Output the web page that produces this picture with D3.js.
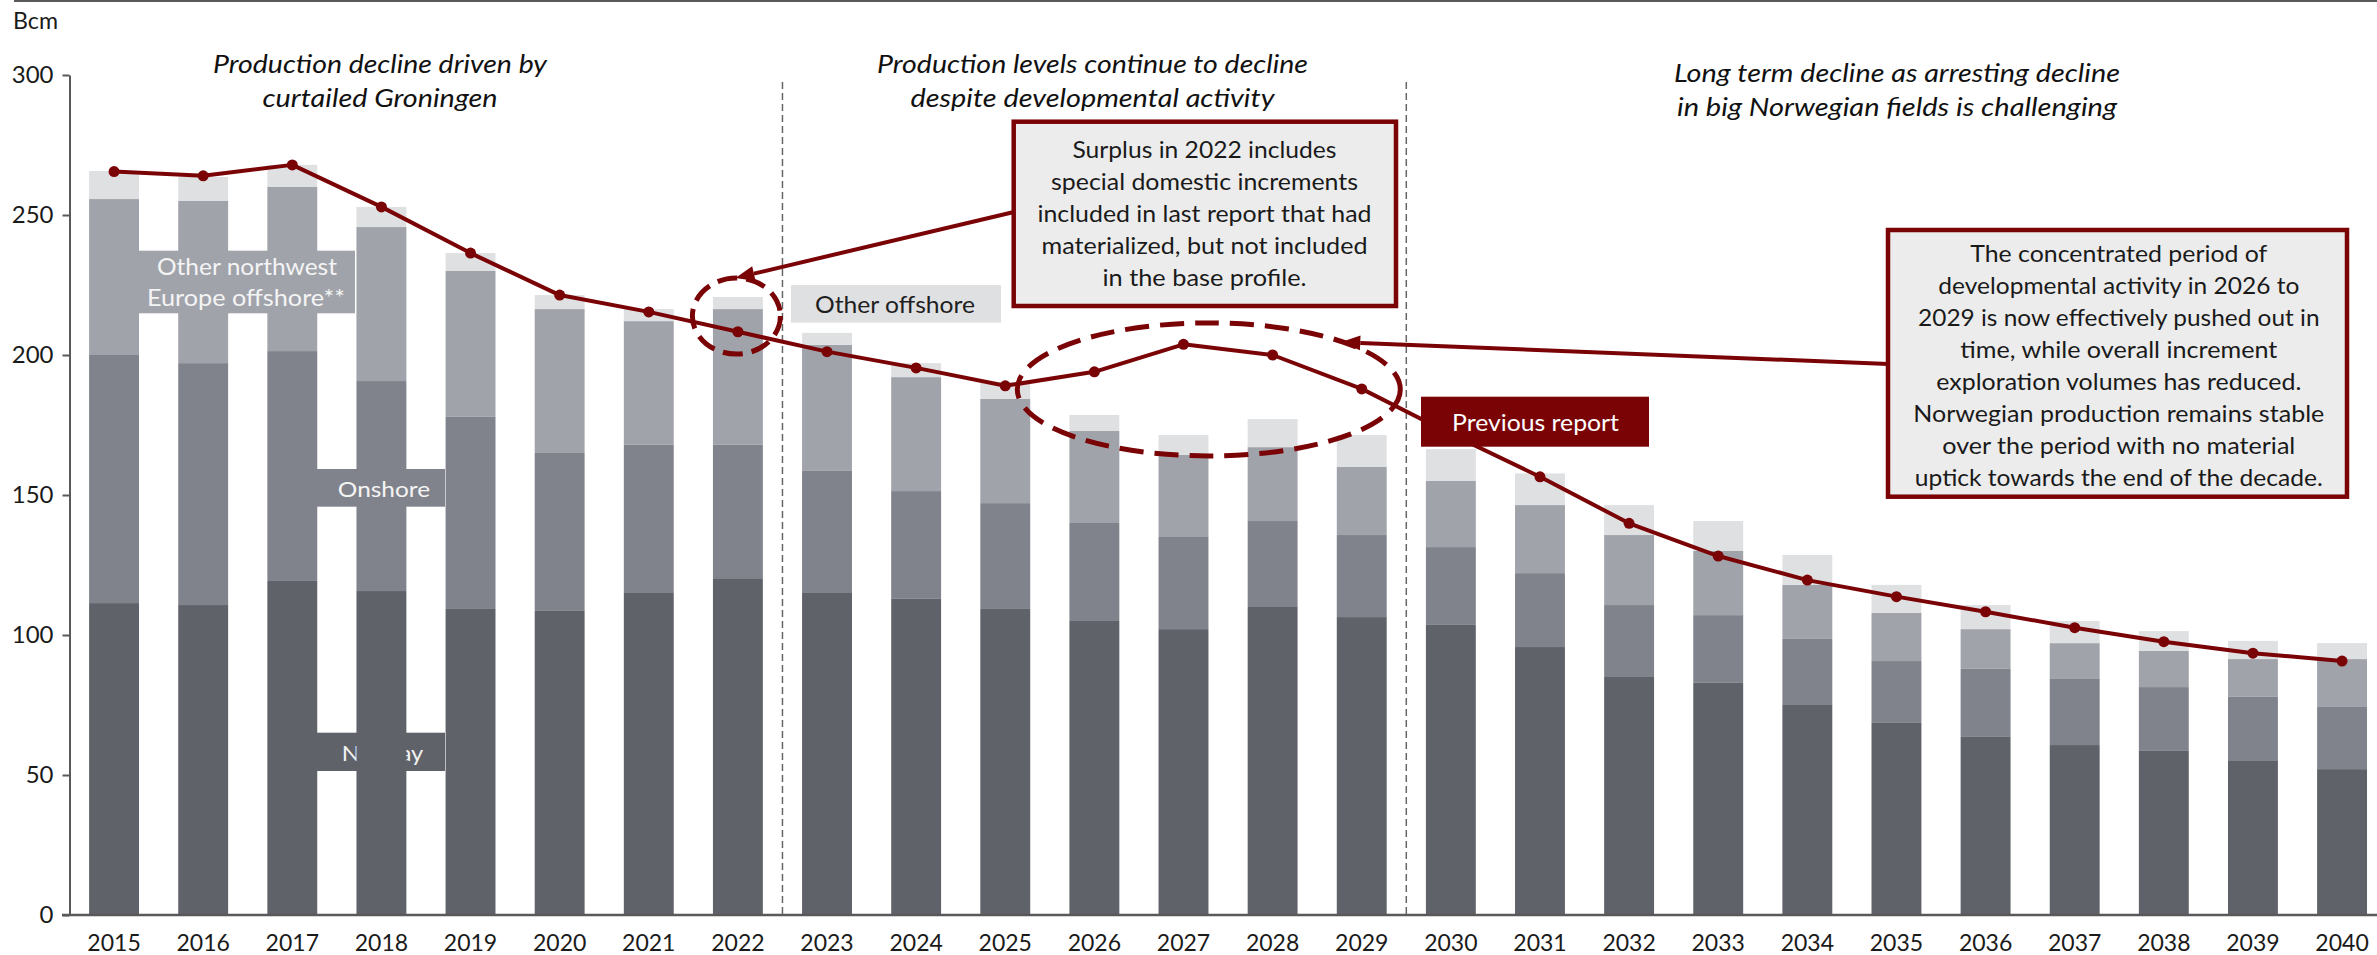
<!DOCTYPE html>
<html>
<head>
<meta charset="utf-8">
<script src="https://cdn.jsdelivr.net/npm/d3@7"></script>
<style>
  html, body { margin: 0; padding: 0; background: #ffffff; }
  svg { display: block; font-family: Lato, "Open Sans", sans-serif; }
</style>
</head>
<body>
<svg id="chart" width="2377" height="955"></svg>
<script>
// ---------------- DATA ----------------
const years = [2015, 2016, 2017, 2018, 2019, 2020, 2021, 2022, 2023, 2024, 2025, 2026, 2027,
               2028, 2029, 2030, 2031, 2032, 2033, 2034, 2035, 2036, 2037, 2038, 2039, 2040];
const norway        = [111.4, 110.7, 119.3, 115.7, 109.3, 108.6, 115.0, 120.0, 115.0, 112.9, 109.3, 105.0, 102.1,
                       110.0, 106.4, 103.6, 95.7, 85.0, 82.9, 75.0, 68.6, 63.6, 60.7, 58.6, 55.0, 52.1];
const onshore       = [88.6, 86.4, 82.1, 75.0, 68.6, 56.4, 52.9, 47.9, 43.6, 38.5, 37.8, 35.0, 32.9,
                       30.7, 29.3, 27.8, 26.4, 25.7, 24.2, 23.6, 22.1, 24.3, 23.6, 22.8, 22.9, 22.2];
const otherNW       = [55.7, 57.9, 58.6, 55.0, 52.1, 51.4, 44.2, 48.5, 45.0, 40.7, 37.2, 32.9, 29.3,
                       26.4, 24.3, 23.6, 24.3, 25.0, 22.9, 19.3, 17.2, 14.2, 12.8, 12.9, 13.5, 17.1];
const otherOffshore = [10.0, 8.6, 7.9, 7.2, 6.4, 5.0, 4.3, 4.3, 4.3, 5.0, 6.1, 5.7, 7.1,
                       10.0, 11.4, 11.4, 11.3, 10.7, 10.7, 10.7, 10.0, 8.6, 7.9, 7.1, 6.5, 5.7];
const previousReport = [265.5, 264.0, 267.9, 252.9, 236.4, 221.4, 215.4, 208.3, 201.2, 195.4, 189.0, 194.0, 203.8,
                        200.0, 187.9, 171.8, 156.5, 139.9, 128.2, 119.6, 113.7, 108.3, 102.6, 97.6, 93.5, 90.7];
const yTicks = [0, 50, 100, 150, 200, 250, 300];
const seriesKeys = ["norway", "onshore", "otherNW", "otherOffshore"];
const seriesColors = ["#606269", "#80838b", "#a0a3aa", "#dfe0e2"];

const periodTitles = [
  ["Production decline driven by", "curtailed Groningen"],
  ["Production levels continue to decline", "despite developmental activity"],
  ["Long term decline as arresting decline", "in big Norwegian fields is challenging"]
];
const note1 = ["Surplus in 2022 includes", "special domestic increments", "included in last report that had",
               "materialized, but not included", "in the base profile."];
const note2 = ["The concentrated period of", "developmental activity in 2026 to", "2029 is now effectively pushed out in",
               "time, while overall increment", "exploration volumes has reduced.", "Norwegian production remains stable",
               "over the period with no material", "uptick towards the end of the decade."];

// ---------------- SETUP ----------------
const RED = "#7a0306";
const AXIS = "#595959";
const svg = d3.select("#chart");

const x = d3.scaleBand().domain(years).range([69.5, 69.5 + 26 * 89.12]).paddingInner(0.44).paddingOuter(0.22);
const y = d3.scaleLinear().domain([0, 300]).range([915, 75]);
const cx = yr => x(yr) + x.bandwidth() / 2;
const gapAfter = yr => x(yr) + x.bandwidth() + (x.step() - x.bandwidth()) / 2;

const rows = years.map((yr, i) => ({ year: yr, norway: norway[i], onshore: onshore[i], otherNW: otherNW[i], otherOffshore: otherOffshore[i] }));
const stacked = d3.stack().keys(seriesKeys)(rows);

function fitText(sel, w) { sel.attr("textLength", w).attr("lengthAdjust", "spacingAndGlyphs"); return sel; }

// top border
svg.append("line").attr("x1", 14).attr("x2", 2377).attr("y1", 1).attr("y2", 1)
  .attr("stroke", AXIS).attr("stroke-width", 2);

// Bcm
fitText(svg.append("text").attr("x", 13).attr("y", 29).attr("font-size", 23).attr("fill", "#1a1a1a").text("Bcm"), 45);

// period dashed separators
[2022, 2029].forEach(yr => {
  svg.append("line").attr("x1", gapAfter(yr)).attr("x2", gapAfter(yr)).attr("y1", 82).attr("y2", y(0))
    .attr("stroke", "#666").attr("stroke-width", 1.5).attr("stroke-dasharray", "7,4");
});

// period titles
const titleCfg = [
  { cx: 380, y0: 72.7, w: [334, 235] },
  { cx: 1092.5, y0: 72.7, w: [431, 364] },
  { cx: 1897, y0: 81.7, w: [446, 440] }
];
periodTitles.forEach((lines, k) => {
  lines.forEach((t, j) => {
    fitText(svg.append("text").attr("x", titleCfg[k].cx).attr("y", titleCfg[k].y0 + j * 34)
      .attr("text-anchor", "middle").attr("font-size", 25.5).attr("font-style", "italic").attr("fill", "#111")
      .text(t), titleCfg[k].w[j]);
  });
});

// label boxes beneath bars (filling the gaps between bars)
svg.append("rect").attr("x", 139).attr("y", 250.7).attr("width", 216).attr("height", 62.6).attr("fill", seriesColors[2]);
svg.append("rect").attr("x", 316.5).attr("y", 469).attr("width", 128.5).attr("height", 37.7).attr("fill", seriesColors[1]);
svg.append("rect").attr("x", 316.5).attr("y", 732.7).attr("width", 128.5).attr("height", 38.3).attr("fill", seriesColors[0]);
// Norway label text sits under the 2018 bar
fitText(svg.append("text").attr("x", 382.5).attr("y", 760.7).attr("text-anchor", "middle").attr("font-size", 22)
  .attr("fill", "#f4f4f4").text("Norway"), 81.6);

// bars
const gBars = svg.append("g");
stacked.forEach((s, k) => {
  gBars.append("g").attr("fill", seriesColors[k]).selectAll("rect").data(s).join("rect")
    .attr("x", d => x(d.data.year)).attr("width", x.bandwidth())
    .attr("y", d => y(d[1])).attr("height", d => y(d[0]) - y(d[1]));
});

// labels on top of bars
fitText(svg.append("text").attr("x", 247).attr("y", 275).attr("text-anchor", "middle").attr("font-size", 23)
  .attr("fill", "#f4f4f4").text("Other northwest"), 180);
fitText(svg.append("text").attr("x", 246).attr("y", 306).attr("text-anchor", "middle").attr("font-size", 23)
  .attr("fill", "#f4f4f4").text("Europe offshore**"), 198);
fitText(svg.append("text").attr("x", 384).attr("y", 497.3).attr("text-anchor", "middle").attr("font-size", 22)
  .attr("fill", "#f4f4f4").text("Onshore"), 92.3);

svg.append("rect").attr("x", 791).attr("y", 285).attr("width", 210).attr("height", 37.7).attr("fill", seriesColors[3]);
fitText(svg.append("text").attr("x", 895).attr("y", 313.3).attr("text-anchor", "middle").attr("font-size", 23)
  .attr("fill", "#1f1f1f").text("Other offshore"), 160);

// axes
const yAxis = svg.append("g").attr("transform", "translate(69.5,0)")
  .call(d3.axisLeft(y).tickValues(yTicks).tickSize(7).tickSizeOuter(0).tickPadding(9));
yAxis.select(".domain").attr("stroke", AXIS).attr("stroke-width", 2);
yAxis.selectAll(".tick line").attr("stroke", AXIS).attr("stroke-width", 2);
yAxis.selectAll(".tick text").attr("font-size", 24).attr("font-family", "Lato, sans-serif").attr("fill", "#1a1a1a");

const xAxis = svg.append("g").attr("transform", `translate(0,${y(0)})`)
  .call(d3.axisBottom(x).tickSize(0).tickSizeOuter(0));
xAxis.select(".domain").remove();
xAxis.selectAll(".tick text").attr("font-size", 23).attr("font-family", "Lato, sans-serif").attr("fill", "#1a1a1a")
  .attr("y", 36).attr("dy", null);
svg.append("line").attr("x1", 62).attr("x2", 2377).attr("y1", y(0)).attr("y2", y(0))
  .attr("stroke", AXIS).attr("stroke-width", 2.5);

// previous report line
const line = d3.line().x((d, i) => cx(years[i])).y(d => y(d));
svg.append("path").datum(previousReport).attr("d", line).attr("fill", "none")
  .attr("stroke", RED).attr("stroke-width", 4).attr("stroke-linejoin", "round");
svg.append("g").selectAll("circle").data(previousReport).join("circle")
  .attr("cx", (d, i) => cx(years[i])).attr("cy", d => y(d)).attr("r", 5.5).attr("fill", RED);

// Previous report box
svg.append("rect").attr("x", 1421).attr("y", 396.7).attr("width", 228).attr("height", 50).attr("fill", RED);
fitText(svg.append("text").attr("x", 1535.5).attr("y", 431).attr("text-anchor", "middle").attr("font-size", 24)
  .attr("fill", "#ffffff").text("Previous report"), 167);

// dashed ellipses
svg.append("ellipse").attr("cx", cx(2022) - 1.5).attr("cy", y(213.9)).attr("rx", 44).attr("ry", 38)
  .attr("fill", "none").attr("stroke", RED).attr("stroke-width", 5).attr("stroke-dasharray", "20,9");
svg.append("ellipse").attr("cx", cx(2027) + 25.3).attr("cy", y(187.7)).attr("rx", 191.5).attr("ry", 66.5)
  .attr("fill", "none").attr("stroke", RED).attr("stroke-width", 5).attr("stroke-dasharray", "24,11");

// arrows
function arrow(x1, y1, x2, y2) {
  const ang = Math.atan2(y2 - y1, x2 - x1), L = 19, W = 7.5;
  const bx = x2 - L * Math.cos(ang), by = y2 - L * Math.sin(ang);
  svg.append("line").attr("x1", x1).attr("y1", y1).attr("x2", bx).attr("y2", by)
    .attr("stroke", RED).attr("stroke-width", 4);
  const px = -Math.sin(ang) * W, py = Math.cos(ang) * W;
  svg.append("path").attr("d", `M${x2},${y2}L${bx + px},${by + py}L${bx - px},${by - py}Z`).attr("fill", RED);
}
arrow(1014, 212, cx(2022) - 2.5, y(227.5));
arrow(1888, 364, cx(2029) - 20.5, y(204.6));

// annotation boxes
function noteBox(bx, by, bw, bh, lines, tcx, base0, widths) {
  svg.append("rect").attr("x", bx).attr("y", by).attr("width", bw).attr("height", bh)
    .attr("fill", "#ececec").attr("stroke", RED).attr("stroke-width", 4.5);
  lines.forEach((t, j) => {
    fitText(svg.append("text").attr("x", tcx).attr("y", base0 + j * 32).attr("text-anchor", "middle")
      .attr("font-size", 23.5).attr("fill", "#1a1a1a").text(t), widths[j]);
  });
}
noteBox(1013.7, 121.7, 382.3, 184.3, note1, 1204.5, 158.3, [264, 307, 334, 326, 204]);
noteBox(1888, 230, 459, 266.7, note2, 2118.8, 261.7, [297, 361, 401.5, 317, 365, 411, 353, 408]);
</script>
</body>
</html>
